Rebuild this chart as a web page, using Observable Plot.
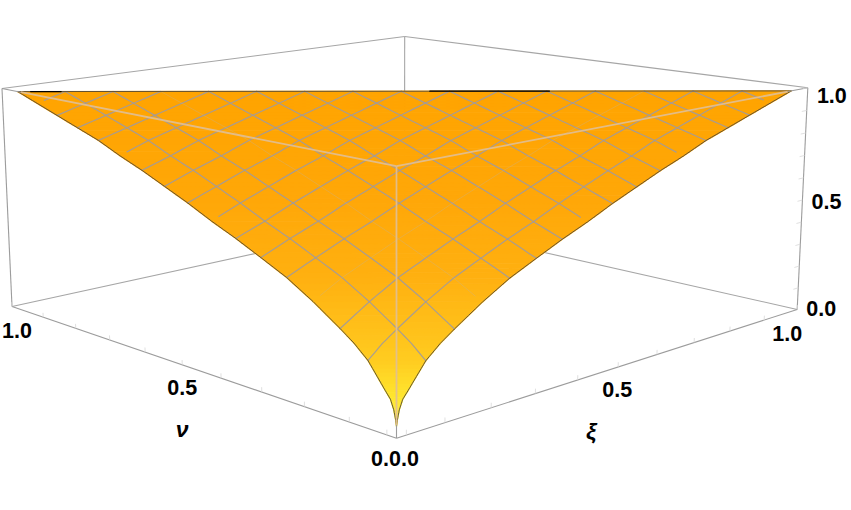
<!DOCTYPE html>
<html>
<head>
<meta charset="utf-8">
<script src="https://cdn.jsdelivr.net/npm/d3@7"></script>
<script src="https://cdn.jsdelivr.net/npm/@observablehq/plot@0.6"></script>
<style>
html,body{margin:0;padding:0;background:#fff}
svg{display:block}
</style>
</head>
<body>
<div id="chart"></div>
<script>
// surface height, as a function of s = nu + xi
const sumValues = [0, .0015, .0056, .0125, .023, .04, .0594, .0891, .1188, .1781, .2375, .2969, .3563, .4156, .475, .5344, .5938, .6531, .7125, .7719, .8313, .8906, .95];
const heightValues = [.045, .066, .104, .14, .166, .21, .26, .31, .35, .424, .489, .54, .59, .635, .685, .73, .775, .815, .86, .895, .93, .965, 1];
const sumMax = .95;
const meshIndex = [1,2,3,4,5,6,7,8,9,10,11,12,13,14,15];
const meshStep = sumMax / 16;
const faintMesh = [3];
const zTicks = [.1,.2,.3,.4,.5,.6,.7,.8,.9,1];
const planTicks = [.02,.1,.2,.3,.4,.5,.6,.7,.8,.9,1];
const blackTopSpans = [[.017,.057],[.537,.691]]; // share of xi along the top rim
const colorStops = [.05,.15,.26,.35,.49,.7,1];
const colorValues = ["#fff04a","#ffe52e","#ffcc20","#ffc01a","#ffb010","#ffa708","#ffa400"];

const surfaceHeight = d3.scaleLinear(sumValues, heightValues).clamp(true);

// camera of the 3D box
function project(nu, xi, z) {
  const w = 1 + .259 * nu + .238 * xi - .032 * z;
  return [(396 - 381.5 * nu + 590.3 * xi - 12.67 * z) / w,
          (437.7 - 52.45 * nu - 55.2 * xi - 277.3 * z) / w];
}
const px = d => project(d.nu, d.xi, d.z)[0];
const py = d => project(d.nu, d.xi, d.z)[1];

// colour strips of equal height
const stops = [];
sumValues.forEach((s, i) => {
  if (i === sumValues.length - 1) { stops.push(s); return; }
  const n = 4;
  for (let j = 0; j < n; j++) stops.push(s + (sumValues[i + 1] - s) * j / n);
});
const strips = [];
for (let i = 0; i < stops.length - 1; i++) {
  const a = stops[i], b = stops[i + 1], za = surfaceHeight(a), zb = surfaceHeight(b), h = (za + zb) / 2;
  strips.push(
    {id: i, h, nu: a, xi: 0, z: za}, {id: i, h, nu: b, xi: 0, z: zb},
    {id: i, h, nu: 0, xi: b, z: zb}, {id: i, h, nu: 0, xi: a, z: za});
}

// mesh lines
function meshLines(ks) {
  const out = [];
  for (const k of ks) {
    const c = k * meshStep;
    const other = stops.map(s => s - c).filter(v => v >= 0);
    for (const v of other) {
      out.push({id: "n" + k, nu: c, xi: v, z: surfaceHeight(c + v)});
      out.push({id: "x" + k, nu: v, xi: c, z: surfaceHeight(c + v)});
    }
  }
  return out.sort((a, b) => d3.ascending(a.id, b.id) || d3.ascending(a.nu + a.xi, b.nu + b.xi));
}
const strongK = meshIndex.filter(k => !faintMesh.includes(k));

// rims of the surface
const rim = [];
for (const s of stops) rim.push({id: "left", nu: s, xi: 0, z: surfaceHeight(s)}, {id: "right", nu: 0, xi: s, z: surfaceHeight(s)});
rim.push({id: "top", nu: sumMax, xi: 0, z: 1}, {id: "top", nu: 0, xi: sumMax, z: 1});
const blackRim = blackTopSpans.flatMap(([p, q], i) => [
  {id: i, nu: sumMax * (1 - p), xi: sumMax * p, z: 1},
  {id: i, nu: sumMax * (1 - q), xi: sumMax * q, z: 1}]);

// box edges
const edge = (a, b) => {
  const p = project(...a), q = project(...b);
  return {x1: p[0], y1: p[1], x2: q[0], y2: q[1]};
};
const backEdges = [
  edge([1,1,0],[1,1,1]), edge([1,0,0],[1,1,0]), edge([0,1,0],[1,1,0]),
  edge([1,0,1],[1,1,1]), edge([0,1,1],[1,1,1])];
const frontEdges = [
  edge([1,0,0],[1,0,1]), edge([0,1,0],[0,1,1]),
  edge([0,0,0],[1,0,0]), edge([0,0,0],[0,1,0]),
  edge([1,0,1],[.94,0,1]), edge([0,1,1],[0,.94,1]), edge([0,0,0],[0,0,.05])];
const overEdges = [
  edge([0,0,.05],[0,0,1]), edge([.94,0,1],[0,0,1]), edge([0,.94,1],[0,0,1])];
const tickEdges = [
  ...planTicks.map(t => edge([t,0,0],[t,0,.02])),
  ...planTicks.map(t => edge([0,t,0],[0,t,.02])),
  ...zTicks.map(t => edge([0,1,t],[0,.985,t]))];

const link = (data, o) => Plot.link(data, {x1: "x1", y1: "y1", x2: "x2", y2: "y2", ...o});
const label = (nu, xi, z, text, dx, dy, o = {}) => Plot.text([{nu, xi, z, text}], {
  x: px, y: py, text: "text", dx, dy,
  fontFamily: "Liberation Sans, Arial, sans-serif", fontWeight: "bold", fontSize: 21.5, fill: "#000", ...o});
const axisName = {fontStyle: "italic", fontSize: 23};

const chart = Plot.plot({
  width: 851, height: 510,
  margin: 0,
  x: {type: "identity", axis: null}, y: {type: "identity", axis: null},
  color: {type: "linear", domain: colorStops, range: colorValues, interpolate: "rgb"},
  style: {background: "#fff"},
  marks: [
    link(backEdges, {stroke: "#a6a6a6", strokeWidth: 1.1}),
    Plot.line(strips, {x: px, y: py, z: "id", fill: "h", stroke: "h", strokeWidth: 1.4}),
    Plot.line(meshLines(strongK), {x: px, y: py, z: "id", stroke: "#a09a9e", strokeWidth: 1.2, strokeOpacity: .9}),
    Plot.line(meshLines(faintMesh), {x: px, y: py, z: "id", stroke: "#b8b4b0", strokeWidth: 1, strokeOpacity: .3}),
    Plot.line(rim, {x: px, y: py, z: "id", stroke: "#524a38", strokeWidth: .9}),
    Plot.line(blackRim, {x: px, y: py, z: "id", stroke: "#000", strokeWidth: 1.3}),
    link(overEdges, {stroke: "#e0bf96", strokeWidth: 1.8, strokeOpacity: .9}),
    link(frontEdges, {stroke: "#9c9c9c", strokeWidth: 1.1}),
    link(tickEdges, {stroke: "#d8d8d8", strokeWidth: .8}),
    label(1, 0, 0, "1.0", 5, 25),
    label(.5, 0, 0, "0.5", 0, 23),
    label(0, 0, 0, "0.0.0", -1.5, 21),
    label(0, .5, 0, "0.5", -1, 23),
    label(0, 1, 0, "1.0", -10, 25),
    label(0, 1, 0, "0.0", 24, 0),
    label(0, 1, .5, "0.5", 24, 2),
    label(0, 1, 1, "1.0", 24, 8),
    label(.5, 0, 0, "\u03bd", 0, 65, axisName),
    label(0, .5, 0, "\u03be", -27, 65, axisName)
  ]
});
document.getElementById("chart").appendChild(chart);
</script>
</body>
</html>
